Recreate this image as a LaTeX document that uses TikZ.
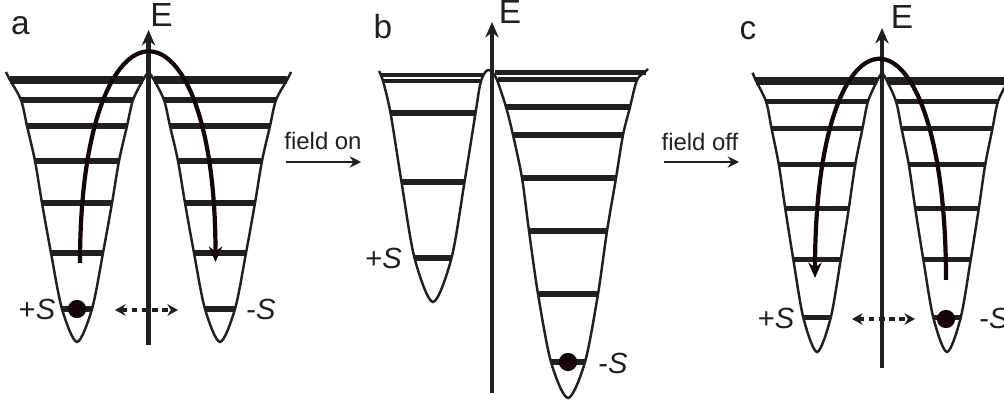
\documentclass[tikz,border=0pt]{standalone}
\usepackage{fontspec}
\setmainfont{Liberation Sans}
\usepackage{xcolor}
\definecolor{inkblack}{RGB}{35,31,32}
\definecolor{arcbrown}{RGB}{22,4,8}
\usepackage{tikz}
\usetikzlibrary{arrows.meta}

\tikzset{
  wall/.style={inkblack, line width=0.7pt},
  rung/.style={inkblack, line width=1.45pt},
  toprung/.style={inkblack, line width=2.5pt},
  eaxis/.style={inkblack, line width=1.15pt, -{Stealth[length=4.4pt,width=3.8pt]}},
  hop/.style={arcbrown, line width=1.2pt, -{Stealth[length=4.4pt,width=3.8pt]}},
  tunnel/.style={inkblack, line width=1pt, dash pattern=on 1.6pt off 1.3pt,
    {Stealth[length=3pt,width=3.3pt]}-{Stealth[length=3pt,width=3.3pt]}},
  fieldarrow/.style={inkblack, line width=0.6pt, -{Stealth[length=3.2pt,width=3.2pt]}},
  paneltxt/.style={font=\fontsize{9.5}{11}\selectfont, inkblack},
  etxt/.style={font=\fontsize{9.5}{11}\selectfont, inkblack},
  fieldtxt/.style={font=\fontsize{6.8}{8}\selectfont, inkblack},
  spintxt/.style={font=\fontsize{8.3}{10}\selectfont, inkblack},
  % symmetric double well, axis at x=0, top rung at y=80
  pics/doublewell/.style={code={
    \draw[wall] plot[smooth, tension=0.5] coordinates {
      (-142.5,72) (-138.5,80) (-127.5,100) (-121.5,126) (-113.5,161) (-106.5,203)
      (-97.5,253) (-86.5,309) (-71.5,342) (-56.5,309) (-45.5,253) (-36.5,203)
      (-29.5,161) (-21.5,126) (-15.5,100) (-5.5,80) (0,73)
      (5.5,80) (15.5,100) (21.5,126) (29.5,161) (36.5,203) (45.5,253)
      (56.5,309) (71.5,342) (86.5,309) (97.5,253) (106.5,203) (113.5,161)
      (121.5,126) (127.5,100) (138.5,80) (142.5,72)};
    \foreach \y/\w in {100/56,126/50,161/42,203/35,253/26,309/15}{
      \draw[rung] (-71.5-\w,\y) -- (-71.5+\w,\y);
      \draw[rung] (71.5-\w,\y) -- (71.5+\w,\y);
    }
    \draw[toprung] (-138.5,80) -- (-5.5,80) (5.5,80) -- (138.5,80);
  }}
}

\begin{document}
\begin{tikzpicture}[x=0.01cm, y=-0.01cm]
  \useasboundingbox (0,0) rectangle (1004,410);

  % --- Panel a: field off, system in +S ---
  \pic at (148.5,0) {doublewell};
  \fill[arcbrown] (77,309) circle (2.6pt);
  \node[paneltxt] (la) at (20.5,26) {a};
  \node[etxt] (ea) at (161.5,15) {E};
  \coordinate (a-bot) at (148.5,345);
  \coordinate (a-top) at (148.5,30);
  \draw[eaxis] (a-bot) -- (a-top);
  \coordinate (a-from) at (80,263);
  \coordinate (a-to) at (215.5,262);
  \draw[hop] (a-from) .. controls +(0,-280) and +(0,-280) .. (a-to);
  \coordinate (a-tl) at (115,310);
  \coordinate (a-tr) at (178,310);
  \draw[tunnel] (a-tl) -- (a-tr);
  \node[spintxt] (pa) at (37,309) {+\textit{S}};
  \node[spintxt] (ma) at (261,309) {-\textit{S}};

  % field on
  \node[fieldtxt] (on) at (323,141) {field on};
  \coordinate (on-from) at (286,162);
  \coordinate (on-to) at (361,162);
  \draw[fieldarrow] (on-from) -- (on-to);

  % --- Panel b: field on, -S lowered ---
  \draw[wall] plot[smooth, tension=0.5] coordinates {
    (379,71) (383,81) (390.5,113) (401.5,182) (414.5,258) (433,302)
    (451.5,258) (464.5,182) (475.5,113) (480,85) (484,74) (488,70) (492,72)
    (497,80) (506,107) (513,135) (522,178) (529,231) (538,294) (551,362)
    (568,398) (585,362) (598,294) (607,231) (616,178) (623,135) (630,107)
    (637,80) (645,72) (648,69)};
  \draw[rung, line width=1.2pt] (380,75) -- (484,75) (383,81) -- (480,81);
  \draw[rung, line width=1.6pt] (495,72.5) -- (646,72.5);
  \draw[rung, line width=1.2pt] (498,79.5) -- (637,79.5);
  \foreach \y/\w in {113/42.5,182/31.5,258/18.5}
    \draw[rung] (433-\w,\y) -- (433+\w,\y);
  \foreach \y/\w in {107/62,135/55,178/47,231/39,294/30,362/17}
    \draw[rung] (568-\w,\y) -- (568+\w,\y);
  \fill[arcbrown] (568,362) circle (2.6pt);
  \node[paneltxt] (lb) at (383,27) {b};
  \node[etxt] (eb) at (510,12) {E};
  \coordinate (b-bot) at (492,393);
  \coordinate (b-top) at (492,22);
  \draw[eaxis] (b-bot) -- (b-top);
  \node[spintxt] (pb) at (383.5,258) {+\textit{S}};
  \node[spintxt] (mb) at (613,363) {-\textit{S}};

  % field off
  \node[fieldtxt] (off) at (700,142) {field off};
  \coordinate (off-from) at (664,162);
  \coordinate (off-to) at (739,162);
  \draw[fieldarrow] (off-from) -- (off-to);

  % --- Panel c: field off, system in -S ---
  \pic[xscale=0.909, yscale=1.0344] at (882,-1.75) {doublewell};
  \fill[arcbrown] (946,319) circle (2.6pt);
  \node[paneltxt] (lc) at (748,31) {c};
  \node[etxt] (ec) at (902,17) {E};
  \coordinate (c-bot) at (882,368);
  \coordinate (c-top) at (882,28);
  \draw[eaxis] (c-bot) -- (c-top);
  \coordinate (c-from) at (946,280);
  \coordinate (c-to) at (815,278);
  \draw[hop] (c-from) .. controls +(0,-292) and +(0,-292) .. (c-to);
  \coordinate (c-tl) at (852,319);
  \coordinate (c-tr) at (915,319);
  \draw[tunnel] (c-tl) -- (c-tr);
  \node[spintxt] (pc) at (776,318) {+\textit{S}};
  \node[spintxt] (mc) at (994,318) {-\textit{S}};
\end{tikzpicture}
\end{document}
